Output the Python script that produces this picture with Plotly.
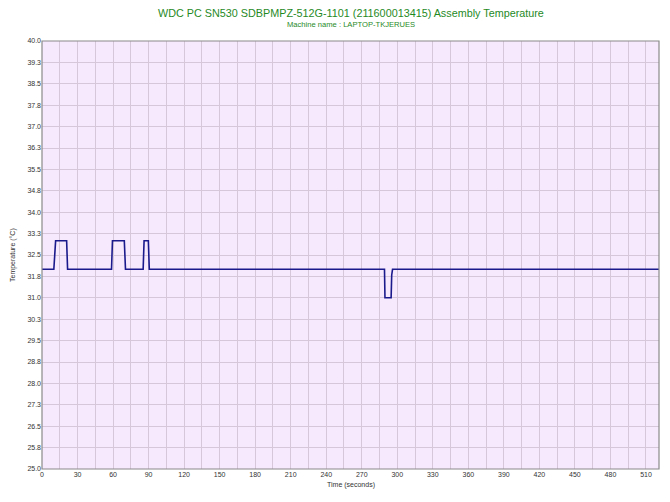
import plotly.graph_objects as go

# Data
time_s = [0, 10, 11.5, 20.8, 21.6, 58.7, 59.5, 69.5, 70.5, 85.4, 86.2, 89.8, 90.6,
          289.2, 289.6, 294.8, 295.3, 296.0, 521]
temp_c = [32.0, 32.0, 33.0, 33.0, 32.0, 32.0, 33.0, 33.0, 32.0, 32.0, 33.0, 33.0, 32.0,
          32.0, 31.0, 31.0, 31.8, 32.0, 32.0]

y_ticks = [25.0 + 0.75 * i for i in range(21)]
y_labels = ["25.0", "25.8", "26.5", "27.3", "28.0", "28.8", "29.5", "30.3", "31.0", "31.8",
            "32.5", "33.3", "34.0", "34.8", "35.5", "36.3", "37.0", "37.8", "38.5", "39.3", "40.0"]
x_ticks = list(range(0, 521, 15))
x_labels = [str(v) if v % 30 == 0 else "" for v in x_ticks]

W, H = 654, 486  # page body has an 8px default margin

fig = go.Figure()
fig.add_trace(go.Scatter(x=time_s, y=temp_c, mode="lines",
                         line=dict(color="#1a1a8c", width=1.6), hoverinfo="skip"))

tick_font = dict(family="Liberation Sans, Arial, sans-serif", size=7, color="#333333")
fig.update_layout(
    width=W, height=H,
    margin=dict(l=34, r=3, t=33, b=25, autoexpand=False),
    paper_bgcolor="white", plot_bgcolor="#F6E9FD",
    showlegend=False,
    xaxis=dict(range=[0, 521], tickvals=x_ticks, ticktext=x_labels, showgrid=True,
               gridcolor="#D6C7DA", gridwidth=1, zeroline=False, ticks="", tickfont=tick_font,
               showline=False, fixedrange=True, automargin=False),
    yaxis=dict(range=[25, 40], tickvals=y_ticks, ticktext=y_labels, showgrid=True,
               gridcolor="#D6C7DA", gridwidth=1, zeroline=False, ticks="", tickfont=tick_font,
               showline=False, fixedrange=True, automargin=False),
    annotations=[
        dict(text="WDC PC SN530 SDBPMPZ-512G-1101 (211600013415) Assembly Temperature",
             xref="paper", yref="paper", x=0.5, xanchor="center", y=1, yshift=28, yanchor="middle",
             showarrow=False,
             font=dict(family="Liberation Sans, Arial, sans-serif", size=10.8, color="#1f8a1f")),
        dict(text="Machine name : LAPTOP-TKJERUES",
             xref="paper", yref="paper", x=0.5, xanchor="center", y=1, yshift=17, yanchor="middle",
             showarrow=False,
             font=dict(family="Liberation Sans, Arial, sans-serif", size=7.6, color="#1f8a1f")),
        dict(text="Time (seconds)", xref="paper", yref="paper", x=0.5, xanchor="center",
             y=0, yshift=-16, yanchor="middle", showarrow=False,
             font=dict(family="Liberation Sans, Arial, sans-serif", size=7, color="#333333")),
        dict(text="Temperature (°C)", xref="paper", yref="paper", x=0, xshift=-29, xanchor="center",
             y=0.5, yanchor="middle", textangle=-90, showarrow=False,
             font=dict(family="Liberation Sans, Arial, sans-serif", size=7, color="#333333")),
    ],
)
fig.add_shape(type="rect", xref="paper", yref="paper", x0=0, x1=1, y0=0, y1=1,
              line=dict(color="#8a8a8a", width=1.2), fillcolor="rgba(0,0,0,0)", layer="above")
fig.write_html("out.html")
